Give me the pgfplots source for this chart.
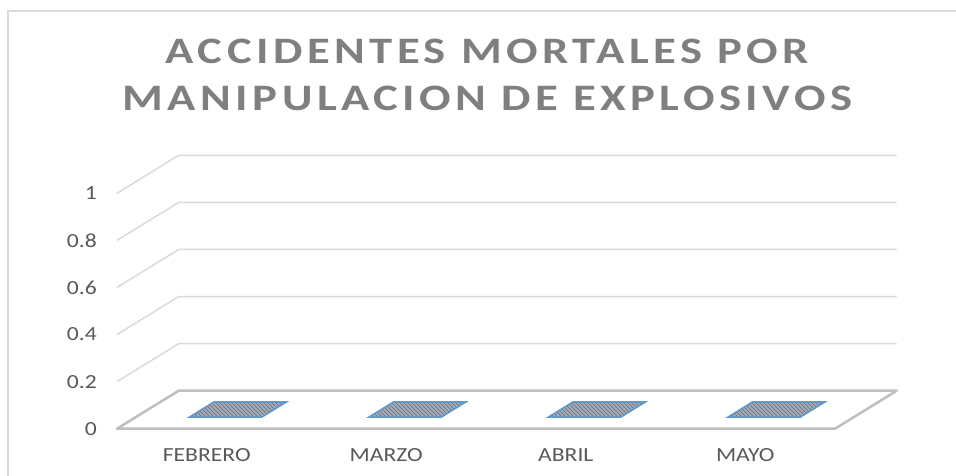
\documentclass[border=0pt]{standalone}
\usepackage{pgfplots}
\pgfplotsset{compat=1.18}
\usetikzlibrary{patterns}
\usepackage{fontspec}
\setmainfont{Carlito}
\newfontfamily\titlefont{Carlito}[LetterSpace=12, FakeStretch=1.25]
\newfontfamily\tickfont{Carlito}[FakeStretch=1.18]
\newfontfamily\catfont{Carlito}[FakeStretch=1.18]
\definecolor{gridc}{HTML}{D9D9D9}
\definecolor{floorc}{HTML}{BFBFBF}
\definecolor{labc}{HTML}{595959}
\definecolor{titc}{HTML}{7F7F7F}
\definecolor{barblue}{HTML}{5B9BD5}
\definecolor{barfill}{RGB}{165,172,183}
\definecolor{barline}{RGB}{100,107,120}
\begin{document}
\begin{tikzpicture}[x=1pt,y=1pt]
\useasboundingbox (0,0) rectangle (717,356.25);
\draw[gridc, line width=1.5pt] (6,-10) |- (730,348);
\begin{axis}[
  at={(87.75pt,34.725pt)}, anchor=south west,
  scale only axis, width=584.8pt, height=205.05pt,
  xmin=0, xmax=4.3437, ymin=0, ymax=1.1614,
  clip=false,
  axis line style={draw=none},
  major tick length=0pt,
  xtick={0.5,1.5,2.5,3.5},
  xticklabels={FEBRERO,MARZO,ABRIL,MAYO},
  ytick={0,0.2,0.4,0.6,0.8,1},
  yticklabels={0,0.2,0.4,0.6,0.8,1},
  xticklabel style={font=\catfont\fontsize{15}{17}\selectfont, text=labc, inner sep=0pt, anchor=north, yshift=-14.5pt},
  yticklabel style={font=\tickfont\fontsize{15}{17}\selectfont, text=labc, inner sep=0pt, anchor=east, xshift=-15pt},
  title={ACCIDENTES MORTALES POR\\MANIPULACION DE EXPLOSIVOS},
  title style={font=\titlefont\bfseries\fontsize{28}{35.5}\selectfont, text=titc, align=center, inner sep=0pt,
    at={(axis description cs:0.475,1.397)}, anchor=north},
]
% gridlines on back wall and left wall
\pgfplotsinvokeforeach{0.2,0.4,0.6,0.8,1}{
  \addplot[gridc, line width=1.1pt, no marks, forget plot] coordinates {(0,#1) (0.3437,#1+0.1614) (4.3437,#1+0.1614)};
}
% floor outline
\addplot[floorc, line width=1.9pt, no marks, forget plot, line join=round] coordinates {(0,0) (4,0) (4.3437,0.1614) (0.3437,0.1614) (0,0)} -- cycle;
% bars (value 0: flat top face on the floor)
\pgfplotsinvokeforeach{0,1,2,3}{
  \addplot[draw=barblue, line width=0.9pt, fill=barfill, postaction={pattern=north west lines, pattern color=barline}, no marks, forget plot]
    coordinates {(#1+0.4011,0.0484+0) (#1+0.8051,0.0484+0) (#1+0.9460,0.1146+0) (#1+0.5420,0.1146+0) (#1+0.4011,0.0484+0)} -- cycle;
}
\end{axis}
\end{tikzpicture}
\end{document}
